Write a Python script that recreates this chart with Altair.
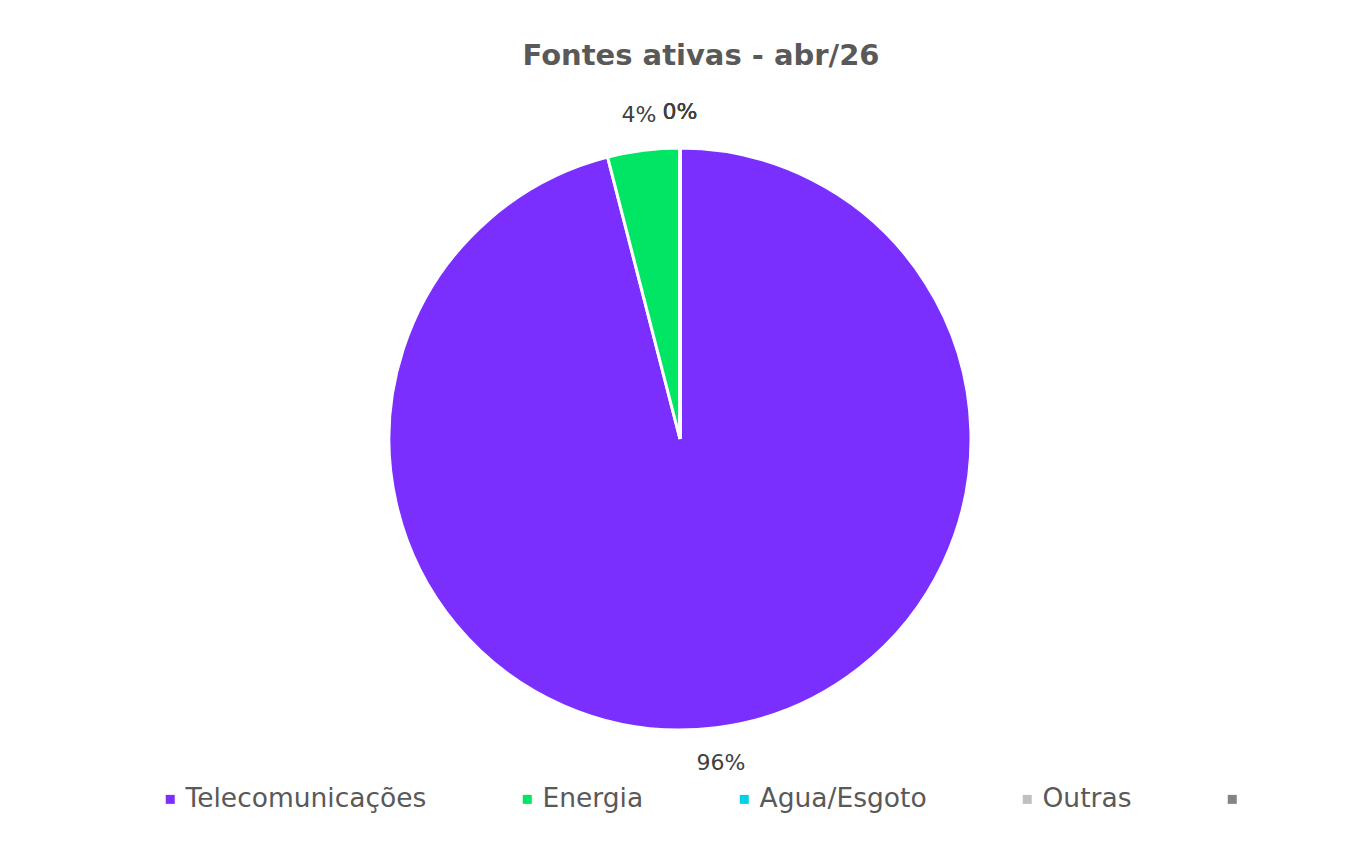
import altair as alt
import pandas as pd

categories = ["Telecomunicações", "Energia", "Agua/Esgoto", "Outras", ""]
values = [96, 4, 0, 0, 0]
labels = ["96%", "4%", "0%", "0%", "0%"]
colors = ["#7B2FFF", "#00E564", "#00D0E8", "#C0C0C0", "#848484"]
title_text = ["Fontes ativas - abr/26"]

df = pd.DataFrame({"cat": categories, "value": values, "label": labels, "idx": list(range(len(categories)))})
tdf = pd.DataFrame({"t": title_text})

CX, CY = 672, 431

base = alt.Chart(df).encode(
    theta=alt.Theta("value:Q", stack=True),
    order=alt.Order("idx:Q"),
)

arcs = base.mark_arc(outerRadius=291, stroke="white", strokeWidth=3).encode(
    color=alt.Color(
        "cat:N",
        scale=alt.Scale(domain=categories, range=colors),
        sort=categories,
        legend=alt.Legend(
            title=None,
            orient="none",
            legendX=149,
            legendY=778,
            direction="horizontal",
            symbolType="square",
            symbolSize=81,
            symbolStrokeWidth=0,
            symbolOpacity=1,
            labelFont="DejaVu Sans",
            labelFontSize=26.5,
            labelColor="#595959",
            labelOffset=2,
            columnPadding=87,
            labelLimit=400,
        ),
    ),
    x=alt.value(CX),
    y=alt.value(CY),
)

texts = base.mark_text(radius=327, font="DejaVu Sans", fontSize=22, color="#404040").encode(
    text="label:N",
    x=alt.value(CX),
    y=alt.value(CY),
)

title = alt.Chart(tdf).mark_text(
    font="DejaVu Sans", fontSize=29, fontWeight="bold", color="#595959", baseline="alphabetic", align="center"
).encode(text="t:N", x=alt.value(693), y=alt.value(57))

chart = alt.layer(arcs, texts, title).properties(
    width=1343,
    height=850,
    background="white",
    padding=0,
    autosize=alt.AutoSizeParams(type="none"),
).configure_view(stroke=None)

chart.save("out.html", embed_options={"renderer": "svg", "actions": False})
